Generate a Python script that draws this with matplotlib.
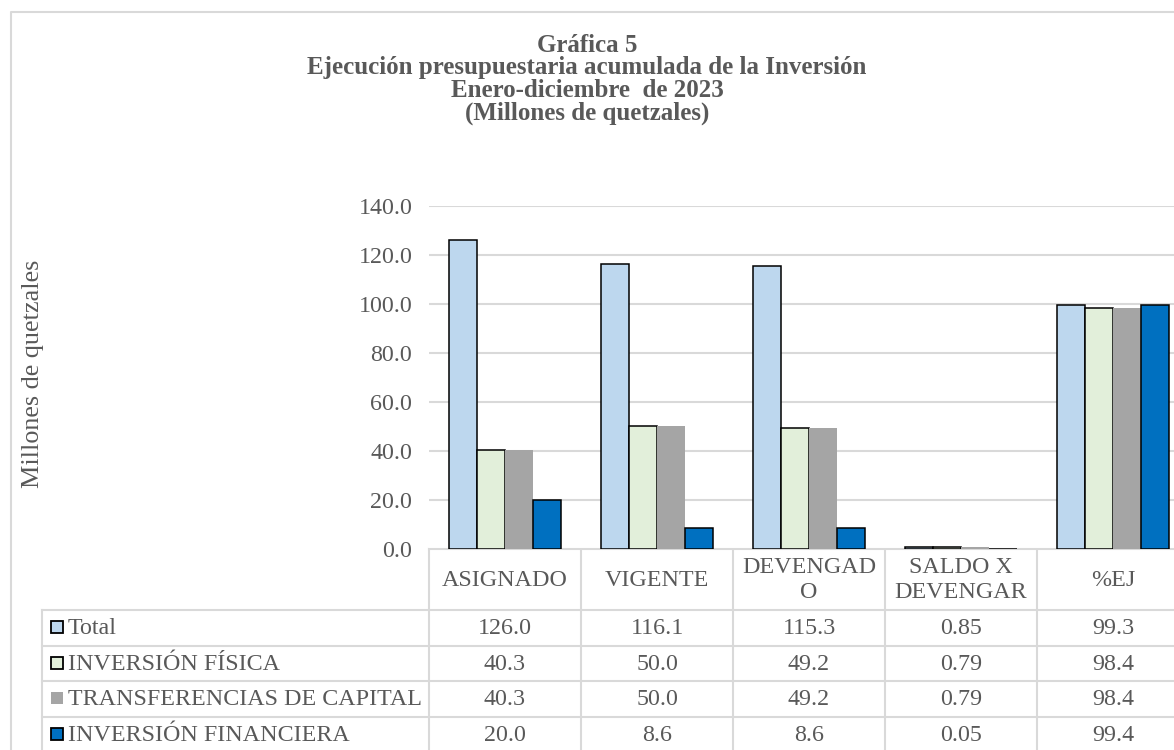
import matplotlib.pyplot as plt
import numpy as np

plt.rcParams['font.family'] = ['Liberation Serif', 'DejaVu Serif']

categorias = ["ASIGNADO", "VIGENTE", "DEVENGAD\nO", "SALDO X\nDEVENGAR", "%EJ"]
series = ["Total", "INVERSIÓN FÍSICA", "TRANSFERENCIAS DE CAPITAL", "INVERSIÓN FINANCIERA"]
total = [126.0, 116.1, 115.3, 0.85, 99.3]
fisica = [40.3, 50.0, 49.2, 0.79, 98.4]
transf = [40.3, 50.0, 49.2, 0.79, 98.4]
financ = [20.0, 8.6, 8.6, 0.05, 99.4]
etiquetas = [["126.0", "116.1", "115.3", "0.85", "99.3"],
             ["40.3", "50.0", "49.2", "0.79", "98.4"],
             ["40.3", "50.0", "49.2", "0.79", "98.4"],
             ["20.0", "8.6", "8.6", "0.05", "99.4"]]
yticks = [0, 20, 40, 60, 80, 100, 120, 140]

colores = ["#BDD7EE", "#E2EFDA", "#A5A5A5", "#0070C0"]
bordes = ["black", "black", "none", "black"]
gris = "#595959"
linea = "#D9D9D9"

W, H = 1174, 750
fig = plt.figure(figsize=(W / 100, H / 100), dpi=100)

# marco exterior
marco = fig.add_axes([0, 0, 1, 1])
marco.set_xlim(0, W)
marco.set_ylim(H, 0)
marco.axis("off")
marco.plot([11, 11, W + 5], [H + 5, 12, 12], color=linea, lw=1.5)

# area de barras (en pixeles)
x0, col_w = 429, 152
y_top, y_bot = 205.7, 548.7
ax = fig.add_axes([x0 / W, 1 - y_bot / H, 5 * col_w / W, (y_bot - y_top) / H])

valores = [total, fisica, transf, financ]
x = np.arange(len(categorias))
w = 0.183
for i, (v, c, b) in enumerate(zip(valores, colores, bordes)):
    ax.bar(x + (i - 1.5) * w, v, w, color=c, edgecolor=b, linewidth=1.1, zorder=3)

ax.set_xlim(-0.5, 4.5)
ax.set_ylim(0, 140)
ax.set_yticks(yticks)
ax.set_yticklabels([f"{t:.1f}" for t in yticks], fontsize=17.3, color=gris)
ax.tick_params(axis="y", length=0, pad=12)
ax.set_xticks([])
ax.grid(axis="y", color=linea, lw=1.5, zorder=0)
for s in ax.spines.values():
    s.set_visible(False)

fig.text(33 / W, 1 - 374 / H, "Millones de quetzales", rotation=90, ha="center",
         va="center", fontsize=18.8, color=gris)

titulo = ["Gráfica 5", "Ejecución presupuestaria acumulada de la Inversión",
          "Enero-diciembre  de 2023", "(Millones de quetzales)"]
for k, t in enumerate(titulo):
    fig.text(587 / W, 1 - (45 + 22.7 * k) / H, t, ha="center", va="center",
             fontsize=18, fontweight="bold", color=gris)

# tabla de datos
tab = marco
x_izq = 42
filas_y = [610, 645.5, 681, 716.5, 752]
bordes_x = [x0 + col_w * j for j in range(6)]
tab.plot([x0, bordes_x[-1]], [548.5, 548.5], color=linea, lw=1.5)
for bx in bordes_x:
    tab.plot([bx, bx], [548.5, H + 5], color=linea, lw=1.5)
tab.plot([x_izq, x_izq], [filas_y[0], H + 5], color=linea, lw=1.5)
for fy in filas_y:
    tab.plot([x_izq, bordes_x[-1]], [fy, fy], color=linea, lw=1.5)

for j, cat in enumerate(categorias):
    tab.text(x0 + col_w * (j + 0.5), 580, cat, ha="center", va="center",
             fontsize=17.3, color=gris, linespacing=1.2)

for i, nombre in enumerate(series):
    yc = (filas_y[i] + filas_y[i + 1]) / 2
    tab.add_patch(plt.Rectangle((51, yc - 6.5), 12, 12, facecolor=colores[i],
                                edgecolor=bordes[i], lw=1.3))
    tab.text(68, yc + 1, nombre, ha="left", va="center", fontsize=17.3, color=gris)
    for j in range(len(categorias)):
        tab.text(x0 + col_w * (j + 0.5), yc + 1, etiquetas[i][j], ha="center",
                 va="center", fontsize=17.3, color=gris)

fig.savefig("out.png", dpi=100)
